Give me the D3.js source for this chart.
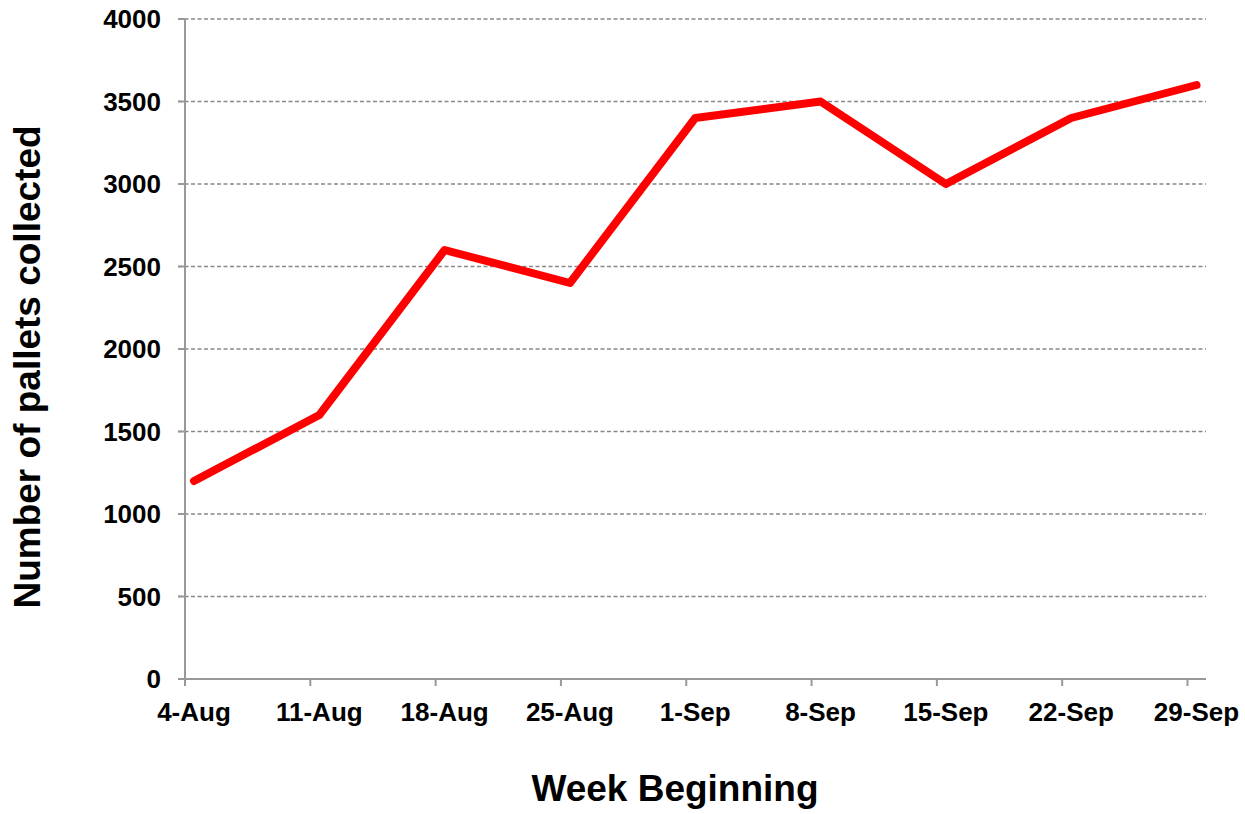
<!DOCTYPE html>
<html>
<head>
<script src="https://d3js.org/d3.v7.min.js"></script>
<style>
	body, html {
		margin: 0;
		padding: 0;
		background: #fff;
		font-family: "Liberation Sans", Arial, sans-serif;
	}
	.tick-label {
		font-size: 26px;
		font-weight: bold;
		fill: #000;
	}
	.axis-title {
		font-size: 37px;
		font-weight: bold;
		fill: #000;
	}
	.grid line {
		stroke: #888;
		stroke-width: 1.5;
		stroke-dasharray: 4 2.5;
	}
	.axis-line {
		stroke: #999;
		stroke-width: 2;
		fill: none;
	}
</style>
</head>
<body>
<script>
	// data
	var weeks = ["4-Aug", "11-Aug", "18-Aug", "25-Aug", "1-Sep", "8-Sep", "15-Sep", "22-Sep", "29-Sep"];
	var pallets = [1200, 1600, 2600, 2400, 3400, 3500, 3000, 3400, 3600];
	var yTicks = [0, 500, 1000, 1500, 2000, 2500, 3000, 3500, 4000];

	var w = 1245, h = 814;
	var plot = {left: 185, right: 1206, top: 19, bottom: 679};

	var svg = d3.select("body").append("svg")
		.attr("width", w)
		.attr("height", h);

	// points sit a little right of the tick marks (date axis)
	var x = d3.scalePoint()
		.domain(weeks)
		.range([194, 1196.5]);
	var tickShift = -9;

	var y = d3.scaleLinear()
		.domain([0, 4000])
		.range([plot.bottom, plot.top]);

	// grid lines
	svg.append("g").attr("class", "grid")
		.selectAll("line")
		.data(yTicks.filter(function(d){ return d > 0; }))
		.enter().append("line")
			.attr("x1", plot.left - 7)
			.attr("x2", plot.right)
			.attr("y1", function(d){ return y(d); })
			.attr("y2", function(d){ return y(d); });

	// y axis
	var yAxis = svg.append("g");
	yAxis.append("line").attr("class", "axis-line")
		.attr("x1", plot.left).attr("x2", plot.left)
		.attr("y1", y(4000)).attr("y2", y(0));
	yAxis.selectAll(".ytick")
		.data(yTicks).enter().append("line")
			.attr("class", "axis-line")
			.attr("x1", plot.left - 7).attr("x2", plot.left)
			.attr("y1", function(d){ return y(d); })
			.attr("y2", function(d){ return y(d); });
	yAxis.selectAll(".ylab")
		.data(yTicks).enter().append("text")
			.attr("class", "tick-label")
			.attr("text-anchor", "end")
			.attr("x", 161)
			.attr("y", function(d){ return y(d) + 9; })
			.text(function(d){ return d; });

	// x axis
	var xAxis = svg.append("g");
	xAxis.append("line").attr("class", "axis-line")
		.attr("x1", plot.left - 7).attr("x2", plot.right)
		.attr("y1", y(0)).attr("y2", y(0));
	xAxis.selectAll(".xtick")
		.data(weeks).enter().append("line")
			.attr("class", "axis-line")
			.attr("x1", function(d){ return x(d) + tickShift; })
			.attr("x2", function(d){ return x(d) + tickShift; })
			.attr("y1", y(0)).attr("y2", y(0) + 7);
	xAxis.selectAll(".xlab")
		.data(weeks).enter().append("text")
			.attr("class", "tick-label")
			.attr("text-anchor", "middle")
			.attr("x", function(d){ return x(d); })
			.attr("y", 721)
			.text(function(d){ return d; });

	// line
	var line = d3.line()
		.x(function(d, i){ return x(weeks[i]); })
		.y(function(d){ return y(d); });

	svg.append("path")
		.datum(pallets)
		.attr("d", line)
		.attr("fill", "none")
		.attr("stroke", "#ff0000")
		.attr("stroke-width", 8)
		.attr("stroke-linejoin", "round")
		.attr("stroke-linecap", "round");

	// titles
	svg.append("text")
		.attr("class", "axis-title")
		.attr("text-anchor", "middle")
		.attr("x", 675)
		.attr("y", 801)
		.text("Week Beginning");

	svg.append("text")
		.attr("class", "axis-title")
		.attr("text-anchor", "middle")
		.attr("transform", "translate(40,367) rotate(-90)")
		.text("Number of pallets collected");
</script>
</body>
</html>
